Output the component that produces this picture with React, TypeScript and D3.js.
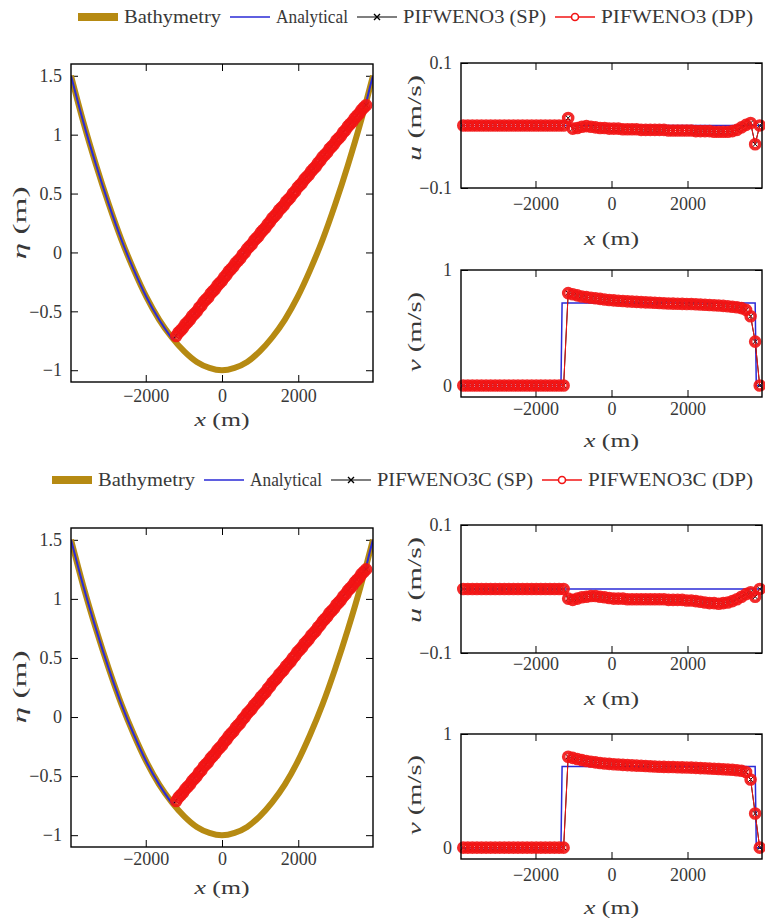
import React, { useEffect, useRef } from "react";
import * as d3 from "d3";

const W = 765;
const H = 924;

// solver mesh (cell centres) and the wet cells where the free surface is marked
const cellX = d3.range(-3900, 3901, 120);
const wetX = d3.range(-1200, 3781, 60);

const xTicks = [-2000, 0, 2000];
const etaTicks = [-1, -0.5, 0, 0.5, 1, 1.5];
const uTicks = [-0.1, 0.1];
const vTicks = [0, 1];

const legendTop = ["Bathymetry", "Analytical", "PIFWENO3 (SP)", "PIFWENO3 (DP)"];
const legendBottom = ["Bathymetry", "Analytical", "PIFWENO3C (SP)", "PIFWENO3C (DP)"];

// bathymetry z(x)
const bathyX = [-3960, -3630, -3300, -2970, -2640, -2310, -1980, -1650, -1320, -990, -660, -330, 0,
  330, 660, 990, 1320, 1650, 1980, 2310, 2640, 2970, 3300, 3630, 3960];
const bathyZ = [1.5, 1.1, 0.74, 0.41, 0.11, -0.15, -0.38, -0.57, -0.72, -0.84, -0.93, -0.98, -1.0,
  -0.98, -0.93, -0.84, -0.72, -0.57, -0.38, -0.15, 0.11, 0.41, 0.74, 1.1, 1.5];

// analytical free surface: dry left part, planar wet part, dry right part
const etaExactX = [-3960, -3630, -3300, -2970, -2640, -2310, -1980, -1650, -1295, 3775, 3870, 3960];
const etaExactY = [1.5, 1.1, 0.74, 0.41, 0.11, -0.15, -0.38, -0.57, -0.74, 1.26, 1.39, 1.5];
const etaExactBreaks = [8, 9]; // kinks at the shorelines

// analytical velocities
const uExactX = [-3960, 3960];
const uExactY = [0, 0];
const vExactX = [-3960, -1330, -1300, 3780, 3810, 3960];
const vExactY = [0, 0, 0.715, 0.715, 0, 0];

// numerical free surface in the wet region (same for both schemes)
const etaDpA = [
  -0.71, -0.68, -0.66, -0.64, -0.61, -0.59, -0.57, -0.54, -0.52, -0.5,
  -0.47, -0.45, -0.42, -0.4, -0.38, -0.35, -0.33, -0.31, -0.28, -0.26,
  -0.24, -0.21, -0.19, -0.16, -0.14, -0.12, -0.09, -0.07, -0.05, -0.02,
  0.0, 0.03, 0.05, 0.07, 0.1, 0.12, 0.14, 0.17, 0.19, 0.21,
  0.24, 0.26, 0.29, 0.31, 0.33, 0.36, 0.38, 0.4, 0.43, 0.45,
  0.47, 0.5, 0.52, 0.55, 0.57, 0.59, 0.62, 0.64, 0.66, 0.69,
  0.71, 0.73, 0.76, 0.78, 0.81, 0.83, 0.85, 0.88, 0.9, 0.92,
  0.95, 0.97, 0.99, 1.02, 1.04, 1.07, 1.09, 1.11, 1.14, 1.16,
  1.18, 1.21, 1.23, 1.25,
];
const etaDpB = etaDpA;

// u, PIFWENO3
const uDpA = [
  0, 0, 0, 0, 0, 0, 0, 0, 0, 0, 0, 0, 0, 0, 0, 0, 0, 0, 0, 0, 0, 0, 0,
  0.012, -0.005, -0.004, -0.002, -0.001, -0.002, -0.003, -0.004, -0.004, -0.005,
  -0.005, -0.005, -0.006, -0.006, -0.006, -0.006, -0.007, -0.007, -0.007, -0.007,
  -0.007, -0.007, -0.008, -0.008, -0.008, -0.008, -0.008, -0.008, -0.009, -0.009,
  -0.009, -0.009, -0.01, -0.01, -0.01, -0.01, -0.009, -0.007, -0.003, 0.001,
  0.004, -0.03, 0,
];
// u, PIFWENO3C
const uDpB = [
  0, 0, 0, 0, 0, 0, 0, 0, 0, 0, 0, 0, 0, 0, 0, 0, 0, 0, 0, 0, 0, 0, 0,
  -0.015, -0.017, -0.015, -0.013, -0.012, -0.011, -0.011, -0.012, -0.013, -0.014,
  -0.015, -0.015, -0.015, -0.016, -0.016, -0.016, -0.016, -0.016, -0.016, -0.016,
  -0.016, -0.016, -0.017, -0.017, -0.017, -0.017, -0.018, -0.018, -0.019, -0.02,
  -0.021, -0.022, -0.022, -0.023, -0.022, -0.021, -0.019, -0.016, -0.012, -0.008,
  -0.005, -0.012, 0,
];
// v, PIFWENO3
const vDpA = [
  0, 0, 0, 0, 0, 0, 0, 0, 0, 0, 0, 0, 0, 0, 0, 0, 0, 0, 0, 0, 0, 0, 0,
  0.8, 0.79, 0.78, 0.77, 0.765, 0.76, 0.755, 0.75, 0.745, 0.74,
  0.737, 0.734, 0.731, 0.728, 0.726, 0.724, 0.722, 0.72, 0.718, 0.716,
  0.714, 0.712, 0.71, 0.709, 0.708, 0.707, 0.706, 0.705, 0.703, 0.701,
  0.699, 0.697, 0.695, 0.692, 0.689, 0.686, 0.682, 0.677, 0.67, 0.655,
  0.6, 0.38, 0,
];
// v, PIFWENO3C
const vDpB = [
  0, 0, 0, 0, 0, 0, 0, 0, 0, 0, 0, 0, 0, 0, 0, 0, 0, 0, 0, 0, 0, 0, 0,
  0.8, 0.79, 0.78, 0.77, 0.762, 0.756, 0.75, 0.745, 0.741, 0.737,
  0.734, 0.731, 0.728, 0.726, 0.724, 0.722, 0.72, 0.718, 0.716, 0.714,
  0.712, 0.711, 0.71, 0.709, 0.708, 0.706, 0.705, 0.704, 0.702, 0.7,
  0.698, 0.696, 0.694, 0.692, 0.69, 0.688, 0.685, 0.681, 0.676, 0.665,
  0.6, 0.3, 0,
];
// single precision runs lie on top of the double precision ones
const uSpA = uDpA, vSpA = vDpA, etaSpA = etaDpA;
const uSpB = uDpB, vSpB = vDpB, etaSpB = etaDpB;

const GOLD = "#b68a12";
const BLUE = "#2a2ad6";
const RED = "#f21414";
const TXT = "#383838";
const FONT = "'Liberation Serif', 'DejaVu Serif', serif";

const rows = [
  {
    names: legendTop, legendX: 78, legendY: 17, widths: [97, 72, 143, 152],
    eta: { x0: 71, x1: 373, y0: 64, y1: 382, tickY: 395, labelY: 421, ylx: 20, ylc: 223, ylLen: 73 },
    u: { x0: 461, x1: 762, y0: 63, y1: 188, tickY: 203, labelY: 240, ylx: 415, ylc: 118, ylLen: 86 },
    v: { x0: 461, x1: 762, y0: 270, y1: 397, tickY: 408, labelY: 442, ylx: 415, ylc: 332, ylLen: 80 },
    etaDp: etaDpA, etaSp: etaSpA, uDp: uDpA, uSp: uSpA, vDp: vDpA, vSp: vSpA,
  },
  {
    names: legendBottom, legendX: 52, legendY: 480, widths: [97, 72, 156, 165],
    eta: { x0: 71, x1: 373, y0: 528, y1: 847, tickY: 858, labelY: 889, ylx: 20, ylc: 687, ylLen: 73 },
    u: { x0: 461, x1: 762, y0: 525, y1: 653, tickY: 663, labelY: 700, ylx: 415, ylc: 580, ylLen: 86 },
    v: { x0: 461, x1: 762, y0: 734, y1: 859, tickY: 874, labelY: 909, ylx: 415, ylc: 795, ylLen: 80 },
    etaDp: etaDpB, etaSp: etaSpB, uDp: uDpB, uSp: uSpB, vDp: vDpB, vSp: vSpB,
  },
];

let clipCount = 0;

function panel(svg, p, yDomain, yTicks, yVar, yUnit) {
  const x = d3.scaleLinear().domain([-3960, 3960]).range([p.x0, p.x1]);
  const y = d3.scaleLinear().domain(yDomain).range([p.y1, p.y0]);
  const g = svg.append("g");

  const id = "clip" + clipCount++;
  g.append("clipPath").attr("id", id).append("rect")
    .attr("x", p.x0).attr("y", p.y0).attr("width", p.x1 - p.x0).attr("height", p.y1 - p.y0);

  const fmt = d3.format("");
  const styleAxis = (a) => {
    a.select(".domain").remove();
    a.selectAll("line").attr("stroke", "#000").attr("stroke-width", 1);
    a.selectAll("text").attr("fill", TXT);
    a.attr("font-family", FONT).attr("font-size", 18);
  };

  g.append("g").attr("transform", `translate(0,${p.y1})`)
    .call(d3.axisBottom(x).tickValues(xTicks).tickSizeInner(-7).tickSizeOuter(0)
      .tickPadding(p.tickY - p.y1 - 6).tickFormat(fmt))
    .call(styleAxis);
  g.append("g").attr("transform", `translate(0,${p.y0})`)
    .call(d3.axisTop(x).tickValues(xTicks).tickSizeInner(-7).tickSizeOuter(0).tickFormat(() => ""))
    .call(styleAxis);
  g.append("g").attr("transform", `translate(${p.x0},0)`)
    .call(d3.axisLeft(y).tickValues(yTicks).tickSizeInner(-7).tickSizeOuter(0).tickPadding(9).tickFormat(fmt))
    .call(styleAxis);
  g.append("g").attr("transform", `translate(${p.x1},0)`)
    .call(d3.axisRight(y).tickValues(yTicks).tickSizeInner(-7).tickSizeOuter(0).tickFormat(() => ""))
    .call(styleAxis);

  // x label
  const xl = g.append("text").attr("x", (p.x0 + p.x1) / 2).attr("y", p.labelY + 5)
    .attr("text-anchor", "middle").attr("font-family", FONT).attr("font-size", 19).attr("fill", TXT)
    .attr("textLength", 55).attr("lengthAdjust", "spacingAndGlyphs");
  xl.append("tspan").attr("font-style", "italic").text("x");
  xl.append("tspan").text(" (m)");

  // y label
  const yl = g.append("text")
    .attr("transform", `translate(${p.ylx + 6},${p.ylc}) rotate(-90)`)
    .attr("text-anchor", "middle").attr("font-family", FONT).attr("font-size", 19).attr("fill", TXT)
    .attr("textLength", p.ylLen).attr("lengthAdjust", "spacingAndGlyphs");
  yl.append("tspan").attr("font-style", "italic").text(yVar);
  yl.append("tspan").text(` (${yUnit})`);

  return { x, y, g, clip: `url(#${id})` };
}

function drawSp(g, x, y, xs, ys) {
  const line = d3.line<number>().x((d) => x(xs[d])).y((d) => y(ys[d]));
  g.append("path").attr("d", line(d3.range(xs.length))).attr("fill", "none")
    .attr("stroke", "#000").attr("stroke-width", 1);
  g.append("g").selectAll("path").data(d3.range(xs.length)).join("path")
    .attr("transform", (d) => `translate(${x(xs[d])},${y(ys[d])})`)
    .attr("d", "M-3,-3L3,3M-3,3L3,-3").attr("stroke", "#000").attr("stroke-width", 1);
}

function drawDp(g, x, y, xs, ys) {
  const line = d3.line<number>().x((d) => x(xs[d])).y((d) => y(ys[d]));
  g.append("path").attr("d", line(d3.range(xs.length))).attr("fill", "none")
    .attr("stroke", RED).attr("stroke-width", 1);
  g.append("g").selectAll("circle").data(d3.range(xs.length)).join("circle")
    .attr("cx", (d) => x(xs[d])).attr("cy", (d) => y(ys[d])).attr("r", 4.5)
    .attr("fill", "none").attr("stroke", RED).attr("stroke-width", 3.6).attr("stroke-opacity", 0.9);
}

function drawFrame(g, p) {
  g.append("rect").attr("x", p.x0).attr("y", p.y0).attr("width", p.x1 - p.x0)
    .attr("height", p.y1 - p.y0).attr("fill", "none").attr("stroke", "#000").attr("stroke-width", 1.4);
}

function drawLegend(svg, row) {
  const g = svg.append("g");
  let cx = row.legendX;
  const cy = row.legendY;
  row.names.forEach((name, i) => {
    const s = g.append("g");
    if (i === 0) {
      s.append("line").attr("x1", cx).attr("x2", cx + 40).attr("y1", cy).attr("y2", cy)
        .attr("stroke", GOLD).attr("stroke-width", 8);
    } else if (i === 1) {
      s.append("line").attr("x1", cx).attr("x2", cx + 40).attr("y1", cy).attr("y2", cy)
        .attr("stroke", BLUE).attr("stroke-width", 1.5);
    } else if (i === 2) {
      s.append("line").attr("x1", cx).attr("x2", cx + 40).attr("y1", cy).attr("y2", cy)
        .attr("stroke", "#000").attr("stroke-width", 1.2);
      s.append("path").attr("transform", `translate(${cx + 20},${cy})`)
        .attr("d", "M-3,-3L3,3M-3,3L3,-3").attr("stroke", "#000").attr("stroke-width", 1.4);
    } else {
      s.append("line").attr("x1", cx).attr("x2", cx + 40).attr("y1", cy).attr("y2", cy)
        .attr("stroke", RED).attr("stroke-width", 1.5);
      s.append("circle").attr("cx", cx + 20).attr("cy", cy).attr("r", 3.5)
        .attr("fill", "#fff").attr("stroke", RED).attr("stroke-width", 1.6);
    }
    cx += 46;
    g.append("text").attr("x", cx).attr("y", cy + 6).attr("font-family", FONT)
      .attr("font-size", 19).attr("fill", TXT)
      .attr("textLength", row.widths[i]).attr("lengthAdjust", "spacingAndGlyphs")
      .text(name);
    cx += row.widths[i] + 9;
  });
}

export default function App() {
  const ref = useRef<SVGSVGElement>(null);

  useEffect(() => {
    const svg = d3.select(ref.current);
    svg.selectAll("*").remove();
    clipCount = 0;

    svg.append("rect").attr("width", W).attr("height", H).attr("fill", "#fff");

    rows.forEach((row) => {
      drawLegend(svg, row);

      // free surface
      {
        const { x, y, g, clip } = panel(svg, row.eta, [-1.1, 1.6], etaTicks, "η", "m");
        const bathy = d3.line<number>().x((d) => x(bathyX[d])).y((d) => y(bathyZ[d]))
          .curve(d3.curveMonotoneX);
        g.append("path").attr("d", bathy(d3.range(bathyX.length))).attr("clip-path", clip)
          .attr("fill", "none").attr("stroke", GOLD).attr("stroke-width", 6);

        const pieces = [
          d3.range(0, etaExactBreaks[0] + 1),
          d3.range(etaExactBreaks[0], etaExactBreaks[1] + 1),
          d3.range(etaExactBreaks[1], etaExactX.length),
        ];
        pieces.forEach((idx) => {
          const l = d3.line<number>().x((d) => x(etaExactX[d])).y((d) => y(etaExactY[d]))
            .curve(idx.length > 2 ? d3.curveMonotoneX : d3.curveLinear);
          g.append("path").attr("d", l(idx)).attr("clip-path", clip)
            .attr("fill", "none").attr("stroke", BLUE).attr("stroke-width", 2);
        });
        drawSp(g, x, y, wetX, row.etaSp);
        drawDp(g, x, y, wetX, row.etaDp);
        drawFrame(g, row.eta);
      }

      // u velocity
      {
        const { x, y, g, clip } = panel(svg, row.u, [-0.1, 0.1], uTicks, "u", "m/s");
        g.append("path").attr("d", d3.line<number>().x((d) => x(uExactX[d])).y((d) => y(uExactY[d]))(d3.range(uExactX.length)))
          .attr("clip-path", clip).attr("fill", "none").attr("stroke", BLUE).attr("stroke-width", 1.5);
        drawSp(g, x, y, cellX, row.uSp);
        drawDp(g, x, y, cellX, row.uDp);
        drawFrame(g, row.u);
      }

      // v velocity
      {
        const { x, y, g, clip } = panel(svg, row.v, [-0.1, 1.0], vTicks, "v", "m/s");
        g.append("path").attr("d", d3.line<number>().x((d) => x(vExactX[d])).y((d) => y(vExactY[d]))(d3.range(vExactX.length)))
          .attr("clip-path", clip).attr("fill", "none").attr("stroke", BLUE).attr("stroke-width", 1.5);
        drawSp(g, x, y, cellX, row.vSp);
        drawDp(g, x, y, cellX, row.vDp);
        drawFrame(g, row.v);
      }
    });
  }, []);

  return (
    <div style={{ position: "absolute", left: 0, top: 0 }}>
      <svg ref={ref} width={W} height={H} style={{ display: "block" }} />
    </div>
  );
}
